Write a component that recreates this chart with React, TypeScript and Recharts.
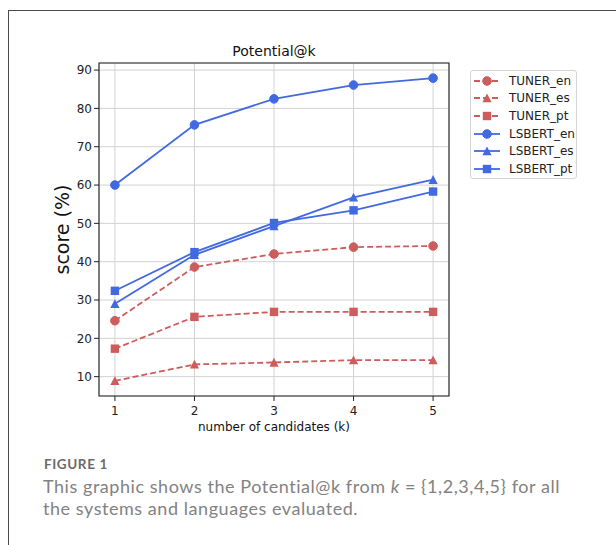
import React from "react"
import { LineChart, Line, XAxis, YAxis, CartesianGrid, Legend, ReferenceArea } from "recharts"

// valores
const ks = [1, 2, 3, 4, 5]
const tunerEn = [24.6, 38.6, 42.0, 43.8, 44.1]
const tunerEs = [8.9, 13.2, 13.7, 14.3, 14.3]
const tunerPt = [17.3, 25.6, 26.9, 26.9, 26.9]
const lsbertEn = [60.0, 75.7, 82.5, 86.1, 87.9]
const lsbertEs = [29.0, 41.8, 49.3, 56.8, 61.4]
const lsbertPt = [32.4, 42.5, 50.1, 53.4, 58.3]
const yTicks = [10, 20, 30, 40, 50, 60, 70, 80, 90]

const RED = "#CD5C5C"
const BLUE = "#4169E1"
const FONT = "'DejaVu Sans', sans-serif"

type Shape = "circle" | "triangle" | "square"

const series: { key: string; name: string; color: string; shape: Shape; dashed: boolean }[] = [
  { key: "tunerEn", name: "TUNER_en", color: RED, shape: "circle", dashed: true },
  { key: "tunerEs", name: "TUNER_es", color: RED, shape: "triangle", dashed: true },
  { key: "tunerPt", name: "TUNER_pt", color: RED, shape: "square", dashed: true },
  { key: "lsbertEn", name: "LSBERT_en", color: BLUE, shape: "circle", dashed: false },
  { key: "lsbertEs", name: "LSBERT_es", color: BLUE, shape: "triangle", dashed: false },
  { key: "lsbertPt", name: "LSBERT_pt", color: BLUE, shape: "square", dashed: false },
]

const data = ks.map((k, i) => ({
  k,
  tunerEn: tunerEn[i],
  tunerEs: tunerEs[i],
  tunerPt: tunerPt[i],
  lsbertEn: lsbertEn[i],
  lsbertEs: lsbertEs[i],
  lsbertPt: lsbertPt[i],
}))

function Marker({ shape, cx, cy, color }: { shape: Shape; cx: number; cy: number; color: string }) {
  if (shape === "circle") return <circle cx={cx} cy={cy} r={4.3} fill={color} stroke={color} />
  if (shape === "square") return <rect x={cx - 4.2} y={cy - 4.2} width={8.4} height={8.4} fill={color} />
  return <path d={`M${cx},${cy - 4.6}L${cx - 4.6},${cy + 4.2}L${cx + 4.6},${cy + 4.2}Z`} fill={color} />
}

const makeDot = (shape: Shape, color: string) => (props: any) => {
  const { cx, cy, index } = props
  if (cx == null || cy == null) return <g key={`d-${index}`} />
  return (
    <g key={`d-${index}`}>
      <Marker shape={shape} cx={cx} cy={cy} color={color} />
    </g>
  )
}

function LegendBox() {
  return (
    <div
      style={{
        width: 107,
        height: 109,
        border: "1px solid #d4d4d4",
        borderRadius: 3,
        background: "#fff",
        boxSizing: "border-box",
        paddingTop: 1,
      }}
    >
      {series.map((s) => (
        <div key={s.key} style={{ display: "flex", alignItems: "center", height: 17.6 }}>
          <svg width={36} height={14} style={{ flex: "none" }}>
            <line
              x1={3}
              x2={29}
              y1={7}
              y2={7}
              stroke={s.color}
              strokeWidth={1.8}
              strokeDasharray={s.dashed ? "6 3" : undefined}
            />
            <Marker shape={s.shape} cx={16} cy={7} color={s.color} />
          </svg>
          <span style={{ fontFamily: FONT, fontSize: 12, color: "#222", marginLeft: 2 }}>{s.name}</span>
        </div>
      ))}
    </div>
  )
}

function YLabel(props: any) {
  const vb = props.viewBox || {}
  const x = vb.x + 13
  const y = vb.y + vb.height / 2
  return (
    <text
      x={x}
      y={y}
      transform={`rotate(-90, ${x}, ${y})`}
      textAnchor="middle"
      dominantBaseline="central"
      fontFamily={FONT}
      fontSize={19}
      fill="#111"
    >
      score (%)
    </text>
  )
}

export default function App() {
  return (
    <div style={{ position: "absolute", left: 0, top: 0, width: 616, height: 545, background: "#fff", overflow: "hidden" }}>
      <div
        style={{
          position: "absolute",
          left: 8,
          top: 10,
          width: 640,
          height: 560,
          borderTop: "1.2px solid #4a4a4a",
          borderLeft: "1.2px solid #4a4a4a",
        }}
      />
      <div
        style={{
          position: "absolute",
          left: 99,
          width: 350,
          top: 43,
          textAlign: "center",
          fontFamily: FONT,
          fontSize: 14,
          color: "#111",
        }}
      >
        Potential@k
      </div>
      <div style={{ position: "absolute", left: 0, top: 0 }}>
        <LineChart width={616} height={545} data={data} margin={{ top: 63, right: 167, bottom: 109, left: 49 }}>
          <CartesianGrid stroke="#d2d2d2" strokeWidth={1} />
          <XAxis
            dataKey="k"
            type="number"
            domain={[0.8, 5.2]}
            ticks={ks}
            allowDataOverflow
            height={40}
            axisLine={false}
            tickSize={5}
            tickMargin={5}
            tickLine={{ stroke: "#222" }}
            tick={{ fontSize: 12, fill: "#222", fontFamily: FONT }}
            label={{
              value: "number of candidates (k)",
              position: "insideBottom",
              offset: 5,
              style: { fontSize: 12, fill: "#111", fontFamily: FONT },
            }}
          />
          <YAxis
            type="number"
            domain={[4.95, 91.85]}
            ticks={yTicks}
            allowDataOverflow
            width={50}
            axisLine={false}
            tickSize={5}
            tickMargin={2}
            tickLine={{ stroke: "#222" }}
            tick={{ fontSize: 12, fill: "#222", fontFamily: FONT }}
            label={<YLabel />}
          />
          <ReferenceArea x1={0.8} x2={5.2} y1={4.95} y2={91.85} fill="none" stroke="#222" strokeWidth={1.1} />
          {series.map((s) => (
            <Line
              key={s.key}
              dataKey={s.key}
              name={s.name}
              type="linear"
              stroke={s.color}
              strokeWidth={1.8}
              strokeDasharray={s.dashed ? "6 3" : undefined}
              dot={makeDot(s.shape, s.color)}
              activeDot={false}
              isAnimationActive={false}
            />
          ))}
          <Legend
            layout="vertical"
            align="center"
            verticalAlign="middle"
            content={() => <LegendBox />}
            wrapperStyle={{ left: 470, top: 70, width: 107, height: 109 }}
          />
        </LineChart>
      </div>
      <div
        style={{
          position: "absolute",
          left: 44,
          top: 456,
          fontFamily: "Lato, 'Open Sans', sans-serif",
          fontWeight: 700,
          fontSize: 13.5,
          letterSpacing: 0.6,
          color: "#6a6a6a",
        }}
      >
        FIGURE 1
      </div>
      <div
        style={{
          position: "absolute",
          left: 43,
          top: 475,
          width: 570,
          fontFamily: "Lato, 'Open Sans', sans-serif",
          fontSize: 18,
          letterSpacing: 0.55,
          lineHeight: "22px",
          color: "#828282",
        }}
      >
        This graphic shows the Potential@k from <i>k</i> = {"{1,2,3,4,5}"} for all
        <br />
        the systems and languages evaluated.
      </div>
    </div>
  )
}
